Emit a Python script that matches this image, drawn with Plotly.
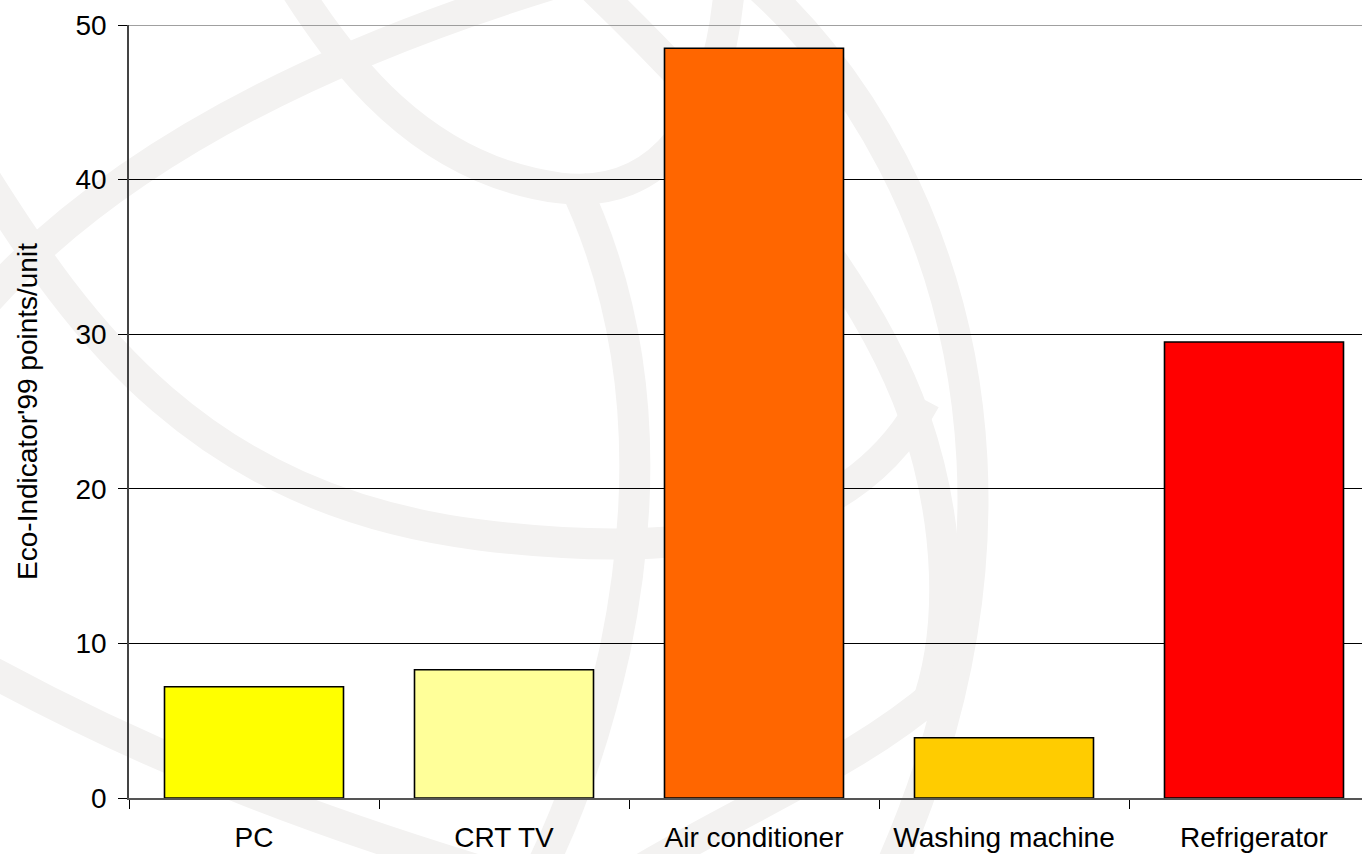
import base64

import plotly.graph_objects as go

# Eco-Indicator'99 score per appliance
categories = ['PC', 'CRT TV', 'Air conditioner', 'Washing machine', 'Refrigerator']
points = [7.2, 8.3, 48.5, 3.9, 29.5]
bar_colors = ['#FFFF00', '#FFFF99', '#FF6600', '#FFCC00', '#FF0000']
y_ticks = [0, 10, 20, 30, 40, 50]

W, H = 1362, 854
L, T, B = 129, 25, 56
PW, PH = W - L, H - T - B
FONT = 'Liberation Sans, Arial, sans-serif'

# faint globe watermark behind the plot (pixel coordinates of the page)
bands = [
    'M -30 320 C 70 200, 250 70, 600 -30',
    'M -30 660 C 150 760, 330 830, 580 900',
    'M -20 170 C 80 330, 200 500, 480 535 C 680 560, 850 540, 925 400',
    'M 290 -20 C 340 60, 420 170, 560 188 C 660 200, 720 120, 730 -20',
    'M 740 -30 C 850 60, 960 230, 972 460 C 980 620, 940 760, 885 880',
    'M 585 -20 C 700 90, 860 260, 915 418 C 950 520, 955 630, 925 710',
    'M 572 180 C 640 320, 650 480, 615 650 C 595 740, 570 810, 540 870',
    'M 640 870 C 760 800, 860 760, 940 690',
]
svg = ('<svg xmlns="http://www.w3.org/2000/svg" width="%d" height="%d" '
       'viewBox="0 0 %d %d" preserveAspectRatio="none">' % (W, H, W, H))
for d in bands:
    svg += ('<path d="%s" fill="none" stroke="#F3F2F1" stroke-width="31" '
            'stroke-linecap="butt"/>' % d)
svg += '</svg>'
watermark = 'data:image/svg+xml;base64,' + base64.b64encode(svg.encode()).decode()

fig = go.Figure()
fig.add_trace(go.Bar(
    x=categories, y=points, width=0.716,
    marker=dict(color=bar_colors, line=dict(color='#000000', width=1.6)),
    hovertemplate='%{x}: %{y}<extra></extra>',
))

fig.add_layout_image(dict(
    source=watermark, xref='paper', yref='paper',
    x=-L / PW, y=1 + T / PH, sizex=W / PW, sizey=H / PH,
    xanchor='left', yanchor='top', sizing='stretch', layer='below',
))

# plot area top edge is grey in the original
fig.add_shape(type='line', xref='paper', yref='y', x0=0, x1=1, y0=50, y1=50,
              line=dict(color='#808080', width=1.5))

fig.update_layout(
    width=W, height=H,
    margin=dict(l=L, r=0, t=T, b=B),
    paper_bgcolor='white', plot_bgcolor='rgba(0,0,0,0)',
    showlegend=False,
    font=dict(family=FONT, size=28, color='#000000'),
    xaxis=dict(
        range=[-0.5, -0.5 + PW / 250], tickson='boundaries',
        ticks='outside', ticklen=9, tickcolor='#000000', tickwidth=1,
        showline=True, linecolor='#555555', linewidth=2,
        showgrid=False, zeroline=False, automargin=False,
        ticklabelstandoff=13,
    ),
    yaxis=dict(
        range=[0, 50], tickvals=y_ticks,
        ticks='outside', ticklen=9, tickcolor='#000000', tickwidth=1,
        showline=True, linecolor='#444444', linewidth=1.5,
        showgrid=True, gridcolor='#000000', gridwidth=1,
        zeroline=False, automargin=False, ticklabelstandoff=6,
        title=dict(text="Eco-Indicator'99 points/unit", standoff=30,
                   font=dict(size=28)),
    ),
)

fig.write_html('out.html', config={'displayModeBar': False},
               post_script="document.body.style.margin='0';"
                           "document.body.style.overflow='hidden';")
